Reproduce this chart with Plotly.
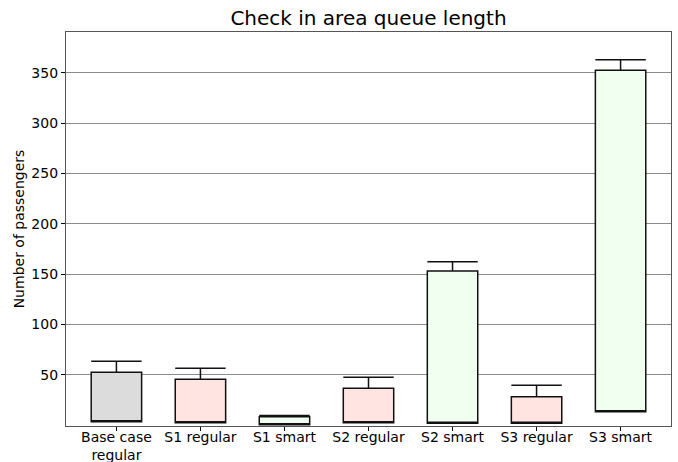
import plotly.graph_objects as go

categories = ["Base case<br>regular", "S1 regular", "S1 smart", "S2 regular", "S2 smart", "S3 regular", "S3 smart"]
q1_vals = [3.6, 2.6, 0.5, 2.6, 2.0, 2.0, 13.5]
q3_vals = [52.6, 45.7, 8.6, 36.7, 153.3, 28.4, 352.4]
upper_vals = [63.6, 56.6, 9.8, 47.7, 162.3, 39.7, 362.9]
fill_colors = ["#dcdcdc", "#ffe4e1", "#f0fff0", "#ffe4e1", "#f0fff0", "#ffe4e1", "#f0fff0"]
y_ticks = [50, 100, 150, 200, 250, 300, 350]

fig = go.Figure()
for i, cat in enumerate(categories):
    fig.add_trace(go.Box(
        x=[cat], q1=[q1_vals[i]], median=[q1_vals[i]], q3=[q3_vals[i]],
        lowerfence=[q1_vals[i]], upperfence=[upper_vals[i]],
        width=0.6, whiskerwidth=1, fillcolor=fill_colors[i],
        line=dict(color="#111111", width=1.5), boxpoints=False,
        showlegend=False, hoverinfo="skip",
    ))

fig.update_layout(
    width=678, height=462,
    margin=dict(l=66, r=7, t=32, b=36),
    paper_bgcolor="white", plot_bgcolor="white",
    boxmode="overlay",
    font=dict(family="DejaVu Sans", size=14, color="black"),
    title=dict(text="Check in area queue length", x=0.5, xanchor="center", xref="paper",
               y=0.962, yanchor="middle", font=dict(size=20, family="DejaVu Sans")),
    xaxis=dict(
        type="category", categoryorder="array", categoryarray=categories,
        range=[-0.6, 6.6], showgrid=False, ticks="outside", ticklen=4,
        tickcolor="black", showline=True, linecolor="#555555", linewidth=1.2,
        mirror=True, tickfont=dict(size=14), zeroline=False, automargin=False,
        ticklabelstandoff=-6,
    ),
    yaxis=dict(
        range=[-0.7, 390.5], tickvals=y_ticks, showgrid=True, gridcolor="#8c8c8c",
        gridwidth=1, ticks="outside", ticklen=4, tickcolor="black",
        showline=True, linecolor="#555555", linewidth=1.2, mirror=True,
        zeroline=False, tickfont=dict(size=14), automargin=False,
        title=dict(text="Number of passengers", font=dict(size=14), standoff=3),
    ),
)

fig.write_html(
    "out.html",
    config={"displayModeBar": False},
    post_script="document.body.style.margin='0';document.body.style.overflow='hidden';",
)
